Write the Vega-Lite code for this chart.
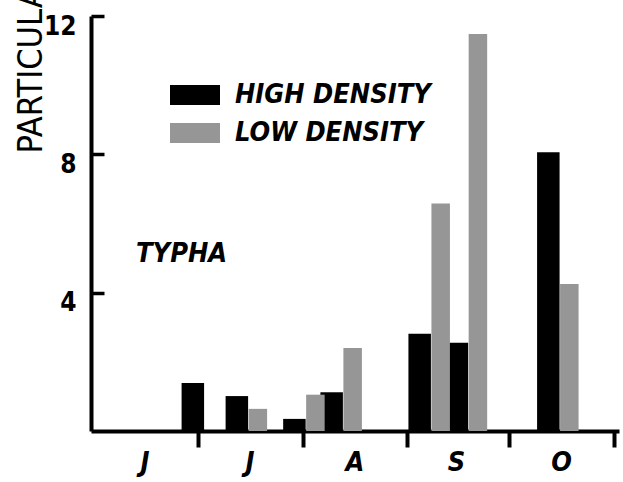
{
  "$schema": "https://vega.github.io/schema/vega-lite/v6.json",
  "width": 528,
  "height": 415,
  "autosize": {"type": "none"},
  "padding": {"left": 91, "top": 16, "right": 4, "bottom": 51},
  "background": "white",
  "title": {
    "text": "TYPHA",
    "anchor": "start",
    "orient": "top",
    "frame": "group",
    "offset": 0,
    "baseline": "alphabetic",
    "dx": 45,
    "dy": 338,
    "fontSize": 27,
    "fontWeight": "bold",
    "fontStyle": "italic",
    "font": "Liberation Sans Narrow, DejaVu Sans Condensed, Liberation Sans, sans-serif",
    "color": "black"
  },
  "data": {
    "values": [
      {"date": "1979-07-03", "density": "HIGH DENSITY", "value": 1.39},
      {"date": "1979-07-03", "density": "LOW DENSITY", "value": 0},
      {"date": "1979-07-16", "density": "HIGH DENSITY", "value": 1.01},
      {"date": "1979-07-16", "density": "LOW DENSITY", "value": 0.64},
      {"date": "1979-08-02", "density": "HIGH DENSITY", "value": 0.35},
      {"date": "1979-08-02", "density": "LOW DENSITY", "value": 1.05},
      {"date": "1979-08-13", "density": "HIGH DENSITY", "value": 1.12},
      {"date": "1979-08-13", "density": "LOW DENSITY", "value": 2.4},
      {"date": "1979-09-08", "density": "HIGH DENSITY", "value": 2.81},
      {"date": "1979-09-08", "density": "LOW DENSITY", "value": 6.58},
      {"date": "1979-09-19", "density": "HIGH DENSITY", "value": 2.55},
      {"date": "1979-09-19", "density": "LOW DENSITY", "value": 11.48},
      {"date": "1979-10-16", "density": "HIGH DENSITY", "value": 8.06},
      {"date": "1979-10-16", "density": "LOW DENSITY", "value": 4.25}
    ]
  },
  "encoding": {
    "x": {
      "field": "date",
      "type": "temporal",
      "scale": {
        "type": "utc",
        "domain": [
          {"year": 1979, "month": 6, "date": 1, "utc": true},
          {"year": 1979, "month": 11, "date": 1, "utc": true}
        ]
      },
      "axis": {
        "title": null,
        "values": [
          {"year": 1979, "month": 7, "date": 1, "utc": true},
          {"year": 1979, "month": 8, "date": 1, "utc": true},
          {"year": 1979, "month": 9, "date": 1, "utc": true},
          {"year": 1979, "month": 10, "date": 1, "utc": true},
          {"year": 1979, "month": 11, "date": 1, "utc": true}
        ],
        "labelExpr": "['J','F','M','A','M','J','J','A','S','O','N','D'][utcmonth(datum.value) - 1]",
        "grid": false,
        "domainColor": "black",
        "domainWidth": 4,
        "tickColor": "black",
        "tickWidth": 4,
        "tickSize": 16,
        "labelOffset": -53,
        "labelPadding": 2,
        "labelAngle": 0,
        "labelFlush": false,
        "labelOverlap": false,
        "labelFontSize": 27,
        "labelFont": "Liberation Sans Narrow, DejaVu Sans Condensed, Liberation Sans, sans-serif",
        "labelFontWeight": "bold",
        "labelFontStyle": "italic",
        "labelColor": "black"
      }
    },
    "y": {
      "field": "value",
      "type": "quantitative",
      "scale": {"domain": [0, 12], "nice": false},
      "axis": {
        "title": "PARTICULATE",
        "titleX": -60,
        "titleY": 137,
        "titleAngle": 270,
        "titleAlign": "left",
        "titleBaseline": "middle",
        "titleFontSize": 34,
        "titleFontWeight": "normal",
        "titleFont": "Liberation Sans Narrow, DejaVu Sans Condensed, Liberation Sans, sans-serif",
        "titleColor": "black",
        "titleLimit": 1000,
        "values": [4, 8, 12],
        "grid": false,
        "domainColor": "black",
        "domainWidth": 4,
        "tickColor": "black",
        "tickWidth": 3.5,
        "tickSize": -13,
        "labelPadding": 28,
        "labelOffset": 10,
        "labelFontSize": 26,
        "labelFont": "Liberation Sans Narrow, DejaVu Sans Condensed, Liberation Sans, sans-serif",
        "labelFontWeight": "bold",
        "labelColor": "black"
      }
    },
    "color": {
      "field": "density",
      "type": "nominal",
      "scale": {"domain": ["HIGH DENSITY", "LOW DENSITY"], "range": ["#000000", "#969696"]},
      "legend": {
        "title": null,
        "orient": "none",
        "legendX": 79,
        "legendY": 54,
        "symbolType": "M-1,-0.4H1V0.4H-1Z",
        "symbolSize": 2500,
        "symbolStrokeWidth": 0,
        "symbolOpacity": 1,
        "labelFontSize": 27,
        "labelFont": "Liberation Sans Narrow, DejaVu Sans Condensed, Liberation Sans, sans-serif",
        "labelFontWeight": "bold",
        "labelFontStyle": "italic",
        "labelColor": "black",
        "labelLimit": 400,
        "labelOffset": 15,
        "rowPadding": -6
      }
    }
  },
  "layer": [
    {
      "transform": [{"filter": "datum.density === 'HIGH DENSITY'"}],
      "mark": {"type": "bar", "size": 22.5, "xOffset": -11.5}
    },
    {
      "transform": [{"filter": "datum.density === 'LOW DENSITY'"}],
      "mark": {"type": "bar", "size": 18.5, "xOffset": 9.5}
    }
  ],
  "config": {"view": {"stroke": null}}
}
